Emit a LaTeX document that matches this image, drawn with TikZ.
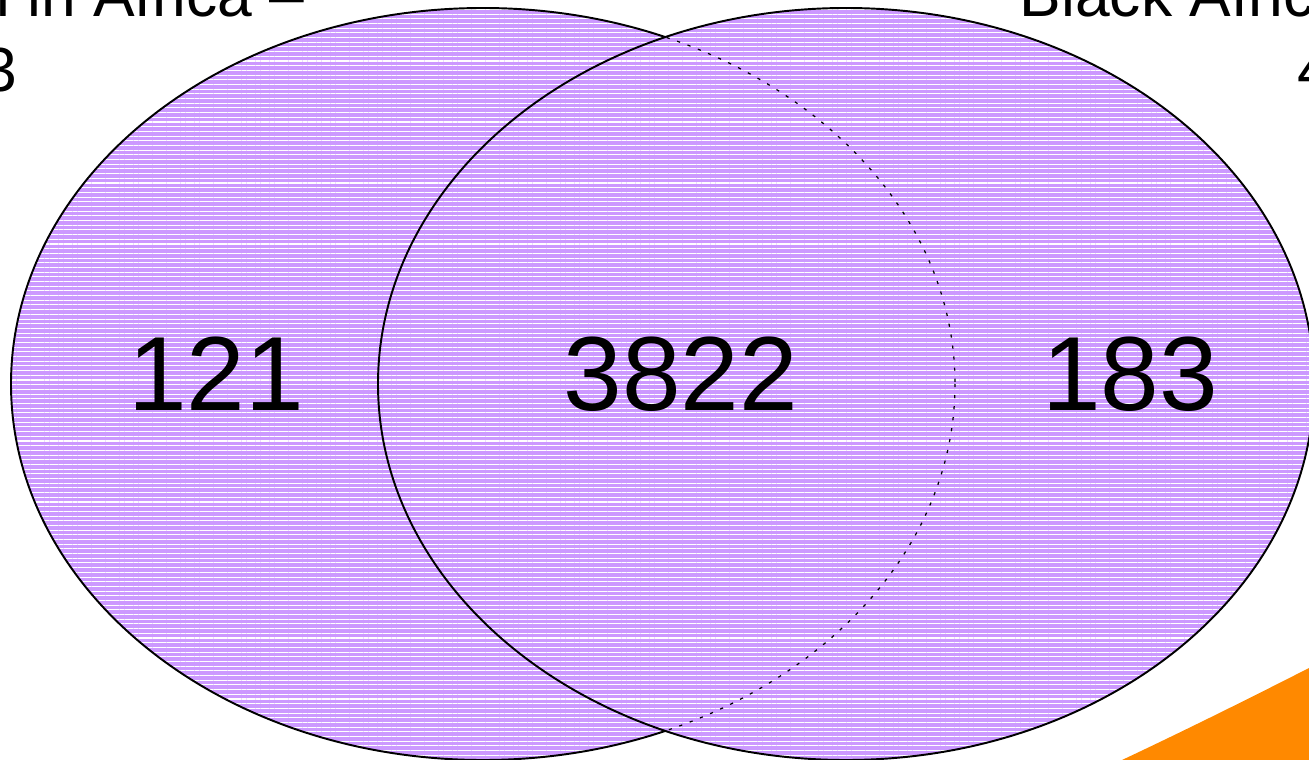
\documentclass[tikz,border=0pt]{standalone}
\usepackage{fontspec}
\setmainfont{Liberation Sans}
\usepackage{xcolor}
\definecolor{vennpurple}{RGB}{204, 153, 255}
\definecolor{accentorange}{RGB}{255, 137, 0}
\usetikzlibrary{patterns.meta}

\begin{document}
\begin{tikzpicture}[x=0.02cm, y=-0.02cm,
    hatched/.style={preaction={fill=vennpurple}, pattern={Lines[angle=0, distance=2.67pt, line width=0.6pt]}, pattern color=white},
    count/.style={font=\fontsize{60}{70}\selectfont, anchor=base},
    heading/.style={font=\fontsize{35.5}{43}\selectfont}]
    \useasboundingbox (0,0) rectangle (1309,760);
    \clip (0,0) rectangle (1309,760);

    \coordinate (L) at (483, 384);
    \coordinate (R) at (846, 384);

    % corner swoosh
    \fill[accentorange] (1122,760) .. controls (1190,728) and (1252,697) .. (1309,668) -- (1309,760) -- cycle;

    % the two sets
    \draw[hatched, line width=1.1pt] (L) ellipse [x radius=472, y radius=376];
    \path[hatched] (R) ellipse [x radius=468, y radius=376];
    \begin{scope}
        \clip (R) ellipse [x radius=468, y radius=376];
        \draw[line width=0.7pt, dash pattern=on 1.8pt off 4.5pt] (L) ellipse [x radius=472, y radius=376];
    \end{scope}
    \draw[line width=1.1pt] (R) ellipse [x radius=468, y radius=376];

    \node[count] (onlyleft) at (216, 410) {121};
    \node[count] (both) at (681, 410) {3822};
    \node[count] (onlyright) at (1130, 410) {183};

    \node[heading, anchor=base west] (lefttitle) at (-128, 17) {Born in Africa –};
    \node[heading, anchor=base west] (lefttotal) at (-128, 92) {3943};
    \node[heading, anchor=base east] (righttitle) at (1442, 17) {Black African –};
    \node[heading, anchor=base east] (righttotal) at (1442, 92) {4005};
\end{tikzpicture}
\end{document}
